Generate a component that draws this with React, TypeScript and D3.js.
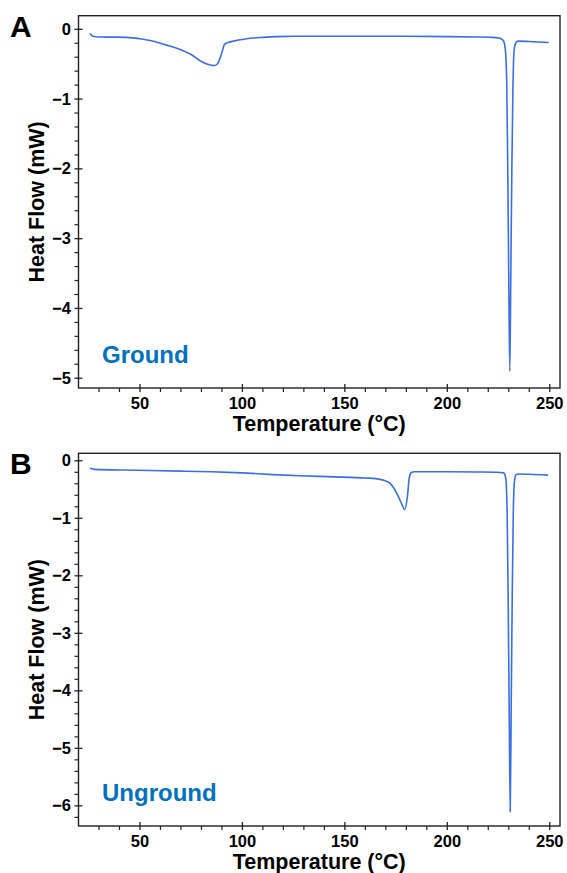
import * as d3 from 'd3';

// panel A (Ground)
const tempA = [25.6, 27, 30, 36, 43.6, 50, 55, 60, 64, 68, 72, 75, 79.3, 83, 86, 87.3, 88.5, 89.5, 90.3, 91, 92, 94, 97, 100, 105, 110, 117, 125, 150, 175, 200, 215, 222, 225, 226.5, 227.5, 228.3, 229, 229.5, 230, 230.5, 231, 231.5, 232, 232.5, 233.3, 234.5, 240, 249.5];
const heatA = [-0.06, -0.1, -0.11, -0.112, -0.115, -0.135, -0.16, -0.2, -0.235, -0.27, -0.32, -0.36, -0.45, -0.5, -0.52, -0.51, -0.46, -0.38, -0.3, -0.23, -0.2, -0.18, -0.16, -0.145, -0.125, -0.115, -0.105, -0.1, -0.1, -0.1, -0.105, -0.11, -0.115, -0.125, -0.14, -0.17, -0.28, -0.75, -2.0, -3.6, -4.9, -3.5, -2.0, -0.9, -0.35, -0.2, -0.17, -0.175, -0.19];

// panel B (Unground)
const tempB = [25.6, 28, 40, 55, 70, 85, 100, 115, 128, 145, 160, 165, 169, 172, 175.4, 177.5, 179.2, 180.5, 181.5, 182.6, 184, 188, 200, 215, 224, 227.5, 228.5, 229.2, 229.7, 230.2, 230.7, 231.2, 231.7, 232.2, 232.8, 233.6, 235, 240, 249.2];
const heatB = [-0.13, -0.15, -0.16, -0.17, -0.18, -0.19, -0.21, -0.24, -0.26, -0.28, -0.3, -0.31, -0.34, -0.39, -0.57, -0.73, -0.85, -0.63, -0.28, -0.2, -0.19, -0.19, -0.19, -0.195, -0.2, -0.21, -0.3, -0.9, -2.4, -4.3, -6.1, -4.2, -2.3, -0.9, -0.35, -0.24, -0.23, -0.235, -0.25];

const xTicks = [50, 100, 150, 200, 250];
const xTickLabels = ['50', '100', '150', '200', '250'];
const yTicksA = [0, -1, -2, -3, -4, -5];
const yTickLabelsA = ['0', '−1', '−2', '−3', '−4', '−5'];
const yTicksB = [0, -1, -2, -3, -4, -5, -6];
const yTickLabelsB = ['0', '−1', '−2', '−3', '−4', '−5', '−6'];

const FONT = '"Liberation Sans", Arial, sans-serif';
const LINE = '#3b6fe6';
const LABEL_BLUE = '#0070c0';

type PanelProps = {
  top: number;
  bottom: number;
  yDomain: [number, number];
  temps: number[];
  heats: number[];
  yTicks: number[];
  yLabels: string[];
  letter: string;
  name: string;
};

function Panel({ top, bottom, yDomain, temps, heats, yTicks, yLabels, letter, name }: PanelProps) {
  const left = 78.5;
  const right = 560;
  const x = d3.scaleLinear().domain([20, 255]).range([left, right]);
  const y = d3.scaleLinear().domain(yDomain).range([bottom, top]);

  const pts = temps.map((t, i) => [t, heats[i]] as [number, number]);
  const path = d3
    .line<[number, number]>()
    .x(d => x(d[0]))
    .y(d => y(d[1]))
    .curve(d3.curveMonotoneX)(pts);

  const xMinor = d3.range(30, 251, 10).filter(v => v % 50 !== 0);
  const yMinor = d3
    .range(0, yDomain[0], -0.2)
    .map(v => Math.round(v * 10) / 10)
    .filter(v => !Number.isInteger(v) && v >= yDomain[0]);

  const midY = (top + bottom) / 2;

  return (
    <g>
      <text x={10} y={top + 21} fontFamily={FONT} fontWeight={700} fontSize={30} fill="#000">
        {letter}
      </text>

      <path d={path ?? ''} fill="none" stroke={LINE} strokeWidth={1.6} />

      <rect x={left} y={top} width={right - left} height={bottom - top} fill="none" stroke="#222" strokeWidth={1.4} />

      {/* x ticks */}
      {xTicks.map((t, i) => (
        <g key={'x' + t}>
          <line x1={x(t)} x2={x(t)} y1={bottom - 4} y2={bottom + 4} stroke="#222" strokeWidth={1.3} />
          <text x={x(t)} y={bottom + 20.5} textAnchor="middle" fontFamily={FONT} fontWeight={700} fontSize={16.5}>
            {xTickLabels[i]}
          </text>
        </g>
      ))}
      {xMinor.map(t => (
        <line key={'xm' + t} x1={x(t)} x2={x(t)} y1={bottom} y2={bottom + 4} stroke="#222" strokeWidth={1.2} />
      ))}

      {/* y ticks */}
      {yTicks.map((t, i) => (
        <g key={'y' + t}>
          <line x1={left - 4} x2={left + 4} y1={y(t)} y2={y(t)} stroke="#222" strokeWidth={1.3} />
          <text x={71} y={y(t) + 5.5} textAnchor="end" fontFamily={FONT} fontWeight={700} fontSize={16.5}>
            {yLabels[i]}
          </text>
        </g>
      ))}
      {yMinor.map(t => (
        <line key={'ym' + t} x1={left - 4} x2={left} y1={y(t)} y2={y(t)} stroke="#222" strokeWidth={1.2} />
      ))}

      <text
        transform={`translate(44,${midY}) rotate(-90)`}
        textAnchor="middle"
        fontFamily={FONT}
        fontWeight={700}
        fontSize={21.5}
      >
        Heat Flow (mW)
      </text>
      <text x={(left + right) / 2} y={bottom + 43} textAnchor="middle" fontFamily={FONT} fontWeight={700} fontSize={21.5}>
        Temperature (°C)
      </text>

      <text x={102} y={bottom - 25} fontFamily={FONT} fontWeight={700} fontSize={24} fill={LABEL_BLUE}>
        {name}
      </text>
    </g>
  );
}

export default function App() {
  return (
    <div style={{ position: 'absolute', left: 0, top: 0 }}>
      <svg width={567} height={873} style={{ display: 'block', background: '#fff' }}>
        <Panel
          top={15.7}
          bottom={388}
          yDomain={[-5.14, 0.195]}
          temps={tempA}
          heats={heatA}
          yTicks={yTicksA}
          yLabels={yTickLabelsA}
          letter="A"
          name="Ground"
        />
        <Panel
          top={453.3}
          bottom={826}
          yDomain={[-6.35, 0.13]}
          temps={tempB}
          heats={heatB}
          yTicks={yTicksB}
          yLabels={yTickLabelsB}
          letter="B"
          name="Unground"
        />
      </svg>
    </div>
  );
}
